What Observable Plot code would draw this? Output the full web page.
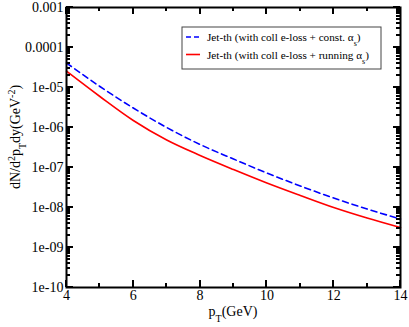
<!DOCTYPE html>
<html><head><meta charset="utf-8">
<script src="https://cdn.jsdelivr.net/npm/d3@7"></script>
<script src="https://cdn.jsdelivr.net/npm/@observablehq/plot@0.6"></script>
<style>body{margin:0;background:#fff}</style>
</head><body><div id="chart"></div>
<script>
const pT = [4, 5, 6, 7, 8, 9, 10, 11, 12, 13, 14];
const constAlpha = [4.1e-5, 1.06e-5, 3.07e-6, 1.0e-6, 3.76e-7, 1.63e-7, 7.29e-8, 3.45e-8, 1.73e-8, 9.17e-9, 5.16e-9];
const runningAlpha = [2.56e-5, 5.96e-6, 1.5e-6, 4.87e-7, 2.0e-7, 8.9e-8, 4.1e-8, 2.0e-8, 1.0e-8, 5.46e-9, 3.16e-9];
const xDomain = [4, 14];
const yDomain = [1e-10, 1e-3];
const xTicks = [4, 6, 8, 10, 12, 14];
const xMinorTicks = [5, 7, 9, 11, 13];
const yTicks = [1e-10, 1e-9, 1e-8, 1e-7, 1e-6, 1e-5, 1e-4, 1e-3];
const yTickLabels = ["1e-10", "1e-09", "1e-08", "1e-07", "1e-06", "1e-05", "0.0001", "0.001"];
const seriesNames = ["Jet-th (with coll e-loss + const. \u03b1", "Jet-th (with coll e-loss + running \u03b1"];
const seriesColors = ["#0000ff", "#ff0000"];

const constData = pT.map((p, i) => ({pT: p, v: constAlpha[i]}));
const runData = pT.map((p, i) => ({pT: p, v: runningAlpha[i]}));
const yMinorTicks = d3.scaleLog().domain(yDomain).ticks().filter(t => !yTicks.some(m => Math.abs(Math.log10(t) - Math.log10(m)) < 1e-9));

const plot = Plot.plot({
  width: 409, height: 327,
  marginLeft: 66, marginRight: 9, marginTop: 7, marginBottom: 40,
  style: {fontFamily: "'Liberation Serif', 'Times New Roman', serif", fontSize: "14px", background: "#fff", color: "#000"},
  x: {domain: xDomain},
  y: {type: "log", domain: yDomain},
  marks: [
    Plot.axisX(xTicks, {tickSize: 0, tickPadding: 3, label: null}),
    Plot.axisY(yTicks, {tickSize: 0, tickPadding: 3, label: null, tickFormat: d => yTickLabels[yTicks.indexOf(d)]}),
    Plot.line(constData, {x: "pT", y: "v", stroke: seriesColors[0], strokeWidth: 1.6, strokeDasharray: "6,4", curve: "monotone-x"}),
    Plot.line(runData, {x: "pT", y: "v", stroke: seriesColors[1], strokeWidth: 1.6, curve: "monotone-x"}),
    Plot.frame({stroke: "#000", strokeWidth: 2})
  ]
});
document.getElementById("chart").appendChild(plot);

const svg = d3.select(plot);
const xs = plot.scale("x"), ys = plot.scale("y");
const [px0, px1] = xs.range, [py0, py1] = ys.range; // py0 = bottom, py1 = top
const tg = svg.append("g").attr("stroke", "#000").attr("stroke-width", 2).attr("fill", "none");
const addX = (vals, len) => vals.forEach(v => {
  const x = Math.round(xs.apply(v));
  tg.append("path").attr("d", `M${x},${py0}V${py0 - len}`);
  tg.append("path").attr("d", `M${x},${py1}V${py1 + len}`);
});
const addY = (vals, len) => vals.forEach(v => {
  const y = Math.round(ys.apply(v));
  tg.append("path").attr("d", `M${px0},${y}H${px0 + len}`);
  tg.append("path").attr("d", `M${px1},${y}H${px1 - len}`);
});
addX(xTicks, 7); addX(xMinorTicks, 4); addY(yTicks, 7); addY(yMinorTicks, 4);

const sub = (t, s, txt, fs) => t.append("tspan").attr("baseline-shift", s).attr("font-size", fs).text(txt);

const yl = svg.append("text").attr("transform", "translate(20,137) rotate(-90)").attr("text-anchor", "middle").attr("font-size", 14).attr("fill", "#000");
yl.append("tspan").text("dN/d"); sub(yl, "super", "2", 10); yl.append("tspan").text("p"); sub(yl, "sub", "T", 10);
yl.append("tspan").text("dy(GeV"); sub(yl, "super", "-2", 10); yl.append("tspan").text(")");

const xl = svg.append("text").attr("x", 233).attr("y", 316).attr("text-anchor", "middle").attr("font-size", 14).attr("fill", "#000");
xl.append("tspan").text("p"); sub(xl, "sub", "T", 10); xl.append("tspan").text("(GeV)");

const lg = svg.append("g");
lg.append("rect").attr("x", 182).attr("y", 27).attr("width", 199).attr("height", 42).attr("fill", "#fff").attr("stroke", "#444").attr("stroke-width", 1);
seriesNames.forEach((name, i) => {
  const yy = 37 + i * 17.5;
  lg.append("line").attr("x1", 186).attr("x2", 200).attr("y1", yy).attr("y2", yy).attr("stroke", seriesColors[i]).attr("stroke-width", 1.6).attr("stroke-dasharray", i === 0 ? "5,3" : null);
  const t = lg.append("text").attr("x", 207).attr("y", yy + 4).attr("text-anchor", "start").attr("font-size", 11.2).attr("fill", "#000");
  t.append("tspan").text(name);
  sub(t, "sub", "s", 8);
  t.append("tspan").text(")");
});
</script>
</body></html>
